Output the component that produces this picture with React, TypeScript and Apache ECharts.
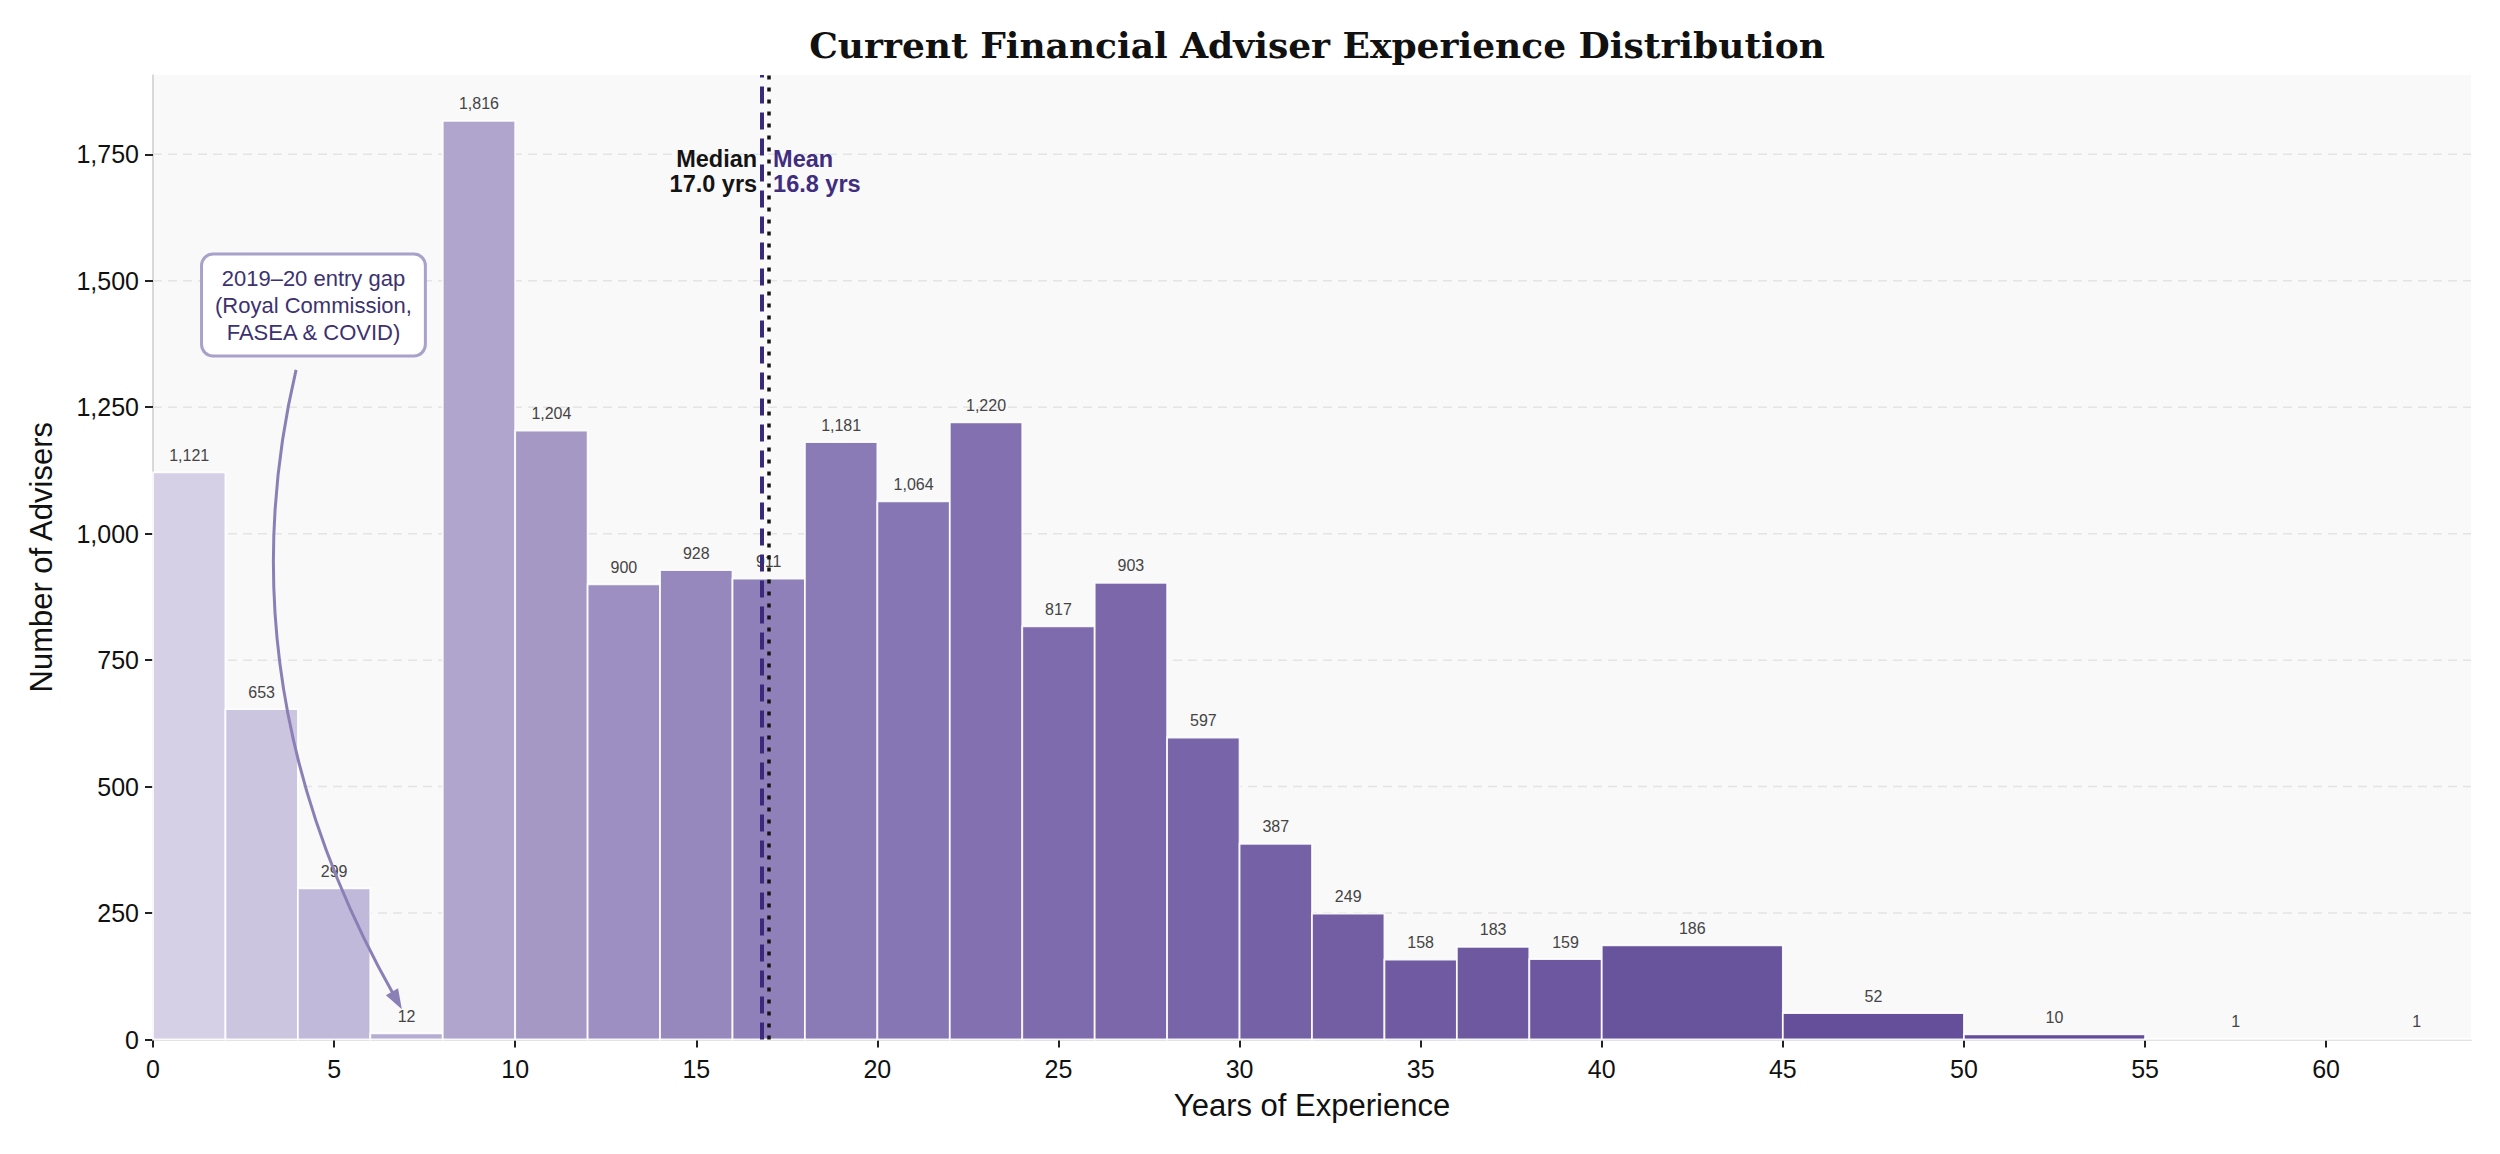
import React, { useEffect, useRef } from 'react';
import * as echarts from 'echarts';

// histogram bins (years of experience) and adviser counts
const binStarts = [0, 2, 4, 6, 8, 10, 12, 14, 16, 18, 20, 22, 24, 26, 28, 30, 32, 34, 36, 38, 40, 45, 50, 55, 60];
const binEnds = [2, 4, 6, 8, 10, 12, 14, 16, 18, 20, 22, 24, 26, 28, 30, 32, 34, 36, 38, 40, 45, 50, 55, 60, 65];
const adviserCounts = [1121, 653, 299, 12, 1816, 1204, 900, 928, 911, 1181, 1064, 1220, 817, 903, 597, 387, 249, 158, 183, 159, 186, 52, 10, 1, 1];

const xTicks = [0, 5, 10, 15, 20, 25, 30, 35, 40, 45, 50, 55, 60];
const yTicks = [0, 250, 500, 750, 1000, 1250, 1500, 1750];

const meanYears = 16.8;
const medianYears = 17.0;

// light -> deep purple, one per bin
const barColors = [
  '#d5d0e5', '#cbc5df', '#c0b9d9', '#b6aed2', '#b0a5cc', '#a598c5', '#9d8fc1', '#9687bd',
  '#8f80b9', '#8a7bb6', '#8676b4', '#8270b0', '#7e6bad', '#7b67aa', '#7864a8', '#7561a6',
  '#735ea4', '#705ba2', '#6e59a1', '#6c57a0', '#68539d', '#654f9b', '#624c99', '#604a97', '#5e4896',
];

const SANS = '"Liberation Sans", Arial, sans-serif';

const App = () => {
  const chartRef = useRef<HTMLDivElement>(null);

  useEffect(() => {
    const chart = echarts.init(chartRef.current, null, { renderer: 'svg' });

    const bins = binStarts.map((s, i) => [s, binEnds[i], adviserCounts[i]]);

    const option: any = {
      animation: false,
      backgroundColor: '#ffffff',
      title: {
        text: 'Current Financial Adviser Experience Distribution',
        left: 1312,
        top: 22,
        textAlign: 'center',
        textStyle: { fontFamily: '"DejaVu Serif", serif', fontWeight: 'bold', fontSize: 36, color: '#111111' },
      },
      grid: {
        left: 153, right: 29, top: 75, bottom: 114.5,
        show: true, backgroundColor: '#f9f9f9', borderWidth: 0,
      },
      xAxis: {
        type: 'value',
        min: 0,
        max: 64,
        name: 'Years of Experience',
        nameLocation: 'middle',
        nameGap: 50,
        nameTextStyle: { fontFamily: SANS, fontSize: 31, color: '#111' },
        axisLine: { show: true, onZero: false, lineStyle: { color: '#cccccc', width: 2 } },
        axisTick: { show: true, length: 8, customValues: xTicks, lineStyle: { color: '#222', width: 2 } },
        axisLabel: { customValues: xTicks, margin: 17, fontFamily: SANS, fontSize: 25, color: '#111' },
        splitLine: { show: false },
      },
      yAxis: {
        type: 'value',
        min: 0,
        max: 1906.8,
        name: 'Number of Advisers',
        nameLocation: 'middle',
        nameGap: 96,
        nameTextStyle: { fontFamily: SANS, fontSize: 31, color: '#111' },
        axisLine: { show: true, lineStyle: { color: '#cccccc', width: 1.5 } },
        axisTick: { show: true, length: 8, customValues: yTicks, lineStyle: { color: '#222', width: 2 } },
        axisLabel: {
          customValues: yTicks, margin: 14, fontFamily: SANS, fontSize: 25, color: '#111',
          formatter: (v: number) => v.toLocaleString('en-US'),
        },
        splitLine: { show: false },
      },
      series: [
        {
          // dashed horizontal grid lines behind the bars
          type: 'custom',
          z: 1,
          silent: true,
          data: yTicks.slice(1),
          encode: { y: 0 },
          renderItem: (params: any, api: any) => {
            const cs = params.coordSys;
            const y = api.coord([0, api.value(0)])[1];
            return {
              type: 'line',
              shape: { x1: cs.x, y1: y, x2: cs.x + cs.width, y2: y },
              style: { stroke: '#e4e4e4', lineWidth: 1.5, lineDash: [9, 6] },
            };
          },
        },
        {
          type: 'custom',
          z: 3,
          data: bins,
          encode: { x: [0, 1], y: 2 },
          renderItem: (params: any, api: any) => {
            const x0 = api.value(0);
            const x1 = api.value(1);
            const c = api.value(2);
            const top = api.coord([x0, c]);
            const bottom = api.coord([x1, 0]);
            const raw = { x: top[0], y: top[1], width: bottom[0] - top[0], height: bottom[1] - top[1] };
            const cs = params.coordSys;
            const rect = echarts.graphic.clipRectByRect(raw, { x: cs.x, y: cs.y, width: cs.width, height: cs.height });
            return {
              type: 'group',
              children: [
                rect && {
                  type: 'rect',
                  shape: rect,
                  style: { fill: barColors[params.dataIndex], stroke: 'rgba(255,255,255,0.9)', lineWidth: 1.8 },
                },
                {
                  type: 'text',
                  style: {
                    text: c.toLocaleString('en-US'),
                    x: raw.x + raw.width / 2,
                    y: top[1] - 9,
                    align: 'center',
                    verticalAlign: 'bottom',
                    fontFamily: SANS,
                    fontSize: 16,
                    fill: '#444444',
                  },
                },
              ].filter(Boolean),
            };
          },
          markLine: {
            silent: true,
            symbol: ['none', 'none'],
            label: { show: false },
            data: [
              { xAxis: meanYears, lineStyle: { color: '#3b2a7c', width: 4, type: [17, 9] } },
              { xAxis: medianYears, lineStyle: { color: '#141414', width: 3.5, type: [4, 8] } },
            ],
          },
        },
      ],
    };

    chart.setOption(option);

    const px = (x: number, y: number) => chart.convertToPixel({ gridIndex: 0 }, [x, y]) as number[];

    // annotation arrow (quadratic curve) from the note box down to the 6-8 yr bin
    const s = px(3.95, 1324);
    const cp = px(1.88, 693);
    const e = px(6.87, 60);
    const dx = e[0] - cp[0];
    const dy = e[1] - cp[1];
    const len = Math.sqrt(dx * dx + dy * dy);
    const ux = dx / len;
    const uy = dy / len;
    const headLen = 20;
    const headHalf = 7;
    const bx = e[0] - ux * headLen;
    const by = e[1] - uy * headLen;

    const box = px(4.43, 1452);
    const labelY = px(0, 1717)[1];
    const medX = px(16.68, 0)[0];
    const meanX = px(17.12, 0)[0];

    chart.setOption({
      graphic: [
        {
          type: 'bezierCurve',
          z: 10,
          shape: { x1: s[0], y1: s[1], cpx1: cp[0], cpy1: cp[1], x2: bx + ux * 4, y2: by + uy * 4 },
          style: { stroke: '#8b80b6', lineWidth: 3, fill: null },
        },
        {
          type: 'polygon',
          z: 10,
          shape: {
            points: [
              [e[0], e[1]],
              [bx - uy * headHalf, by + ux * headHalf],
              [bx + uy * headHalf, by - ux * headHalf],
            ],
          },
          style: { fill: '#8b80b6' },
        },
        {
          type: 'text',
          z: 11,
          x: box[0],
          y: box[1],
          style: {
            text: '2019–20 entry gap\n(Royal Commission,\nFASEA & COVID)',
            align: 'center',
            verticalAlign: 'middle',
            fontFamily: SANS,
            fontSize: 22,
            lineHeight: 27,
            fill: '#3d3270',
            backgroundColor: '#ffffff',
            borderColor: '#a9a1c9',
            borderWidth: 3,
            borderRadius: 10,
            padding: [9, 12],
          },
        },
        {
          type: 'text',
          z: 11,
          x: medX,
          y: labelY,
          style: {
            text: 'Median\n17.0 yrs',
            align: 'right',
            verticalAlign: 'middle',
            fontFamily: SANS,
            fontWeight: 'bold',
            fontSize: 23.5,
            lineHeight: 25,
            fill: '#141414',
          },
        },
        {
          type: 'text',
          z: 11,
          x: meanX,
          y: labelY,
          style: {
            text: 'Mean\n16.8 yrs',
            align: 'left',
            verticalAlign: 'middle',
            fontFamily: SANS,
            fontWeight: 'bold',
            fontSize: 23.5,
            lineHeight: 25,
            fill: '#3f2d7f',
          },
        },
      ],
    });

    return () => {
      chart.dispose();
    };
  }, []);

  return <div ref={chartRef} style={{ position: 'fixed', left: 0, top: 0, width: 2500, height: 1154 }} />;
};

export default App;
